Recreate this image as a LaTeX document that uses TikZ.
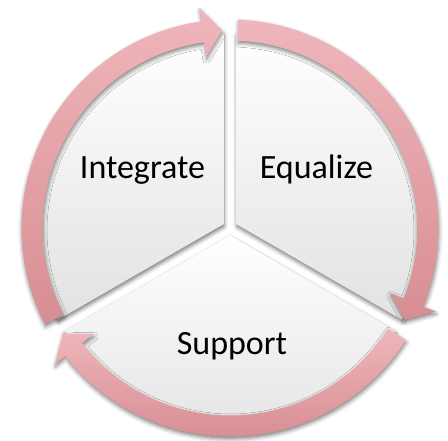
\documentclass[tikz,border=0pt]{standalone}
\usepackage{fontspec}
\setmainfont{Carlito}
\usetikzlibrary{shadows.blur}

\definecolor{arrowlight}{HTML}{EFB6BB}
\definecolor{arrowdark}{HTML}{D78E93}
\definecolor{wedgelow}{HTML}{E2E2E2}

\begin{document}
\begin{tikzpicture}[x=1pt,y=1pt,
  wedge/.style={top color=white, bottom color=wedgelow,
    blur shadow={shadow xshift=0.5pt, shadow yshift=-2.5pt,
      shadow blur radius=4pt, shadow opacity=55}},
  cyclearrow/.style={top color=arrowlight, bottom color=arrowdark,
    blur shadow={shadow xshift=0.5pt, shadow yshift=-2.5pt,
      shadow blur radius=4pt, shadow opacity=50}},
  stagelabel/.style={font=\fontsize{34}{40}\selectfont, anchor=base,
    inner sep=0pt, text=black}
]
\useasboundingbox (0,0) rectangle (448,441);
\coordinate (C) at (230,213);

% three pie segments, each pushed out along its bisector
\foreach \mid/\from/\to in {150/90/210, 30/-30/90, 270/210/330}{
  \path[wedge, shift={(C)}, shift={(\mid:7.5)}]
    (0,0) -- (\from:191) arc[start angle=\from, end angle=\to, radius=191] -- cycle;
}

% circular arrows running clockwise round the segments
\foreach \tail/\tip in {207.5/92.3, 87.7/-27.7, 327.5/212.3}{
  \pgfmathsetmacro\back{\tip+5.6}
  \path[cyclearrow, shift={(C)}]
    (\tail:208.5) arc[start angle=\tail, end angle=\back, radius=208.5]
    -- (\back:222) -- (\tip:197.5) -- (\back:173) -- (\back:187.5)
    arc[start angle=\back, end angle=\tail, radius=187.5] -- cycle;
}

\node[stagelabel] (integrate) at (142.5,262) {Integrate};
\node[stagelabel] (equalize) at (316.5,262) {Equalize};
\node[stagelabel] (support) at (232,86) {Support};
\end{tikzpicture}
\end{document}
